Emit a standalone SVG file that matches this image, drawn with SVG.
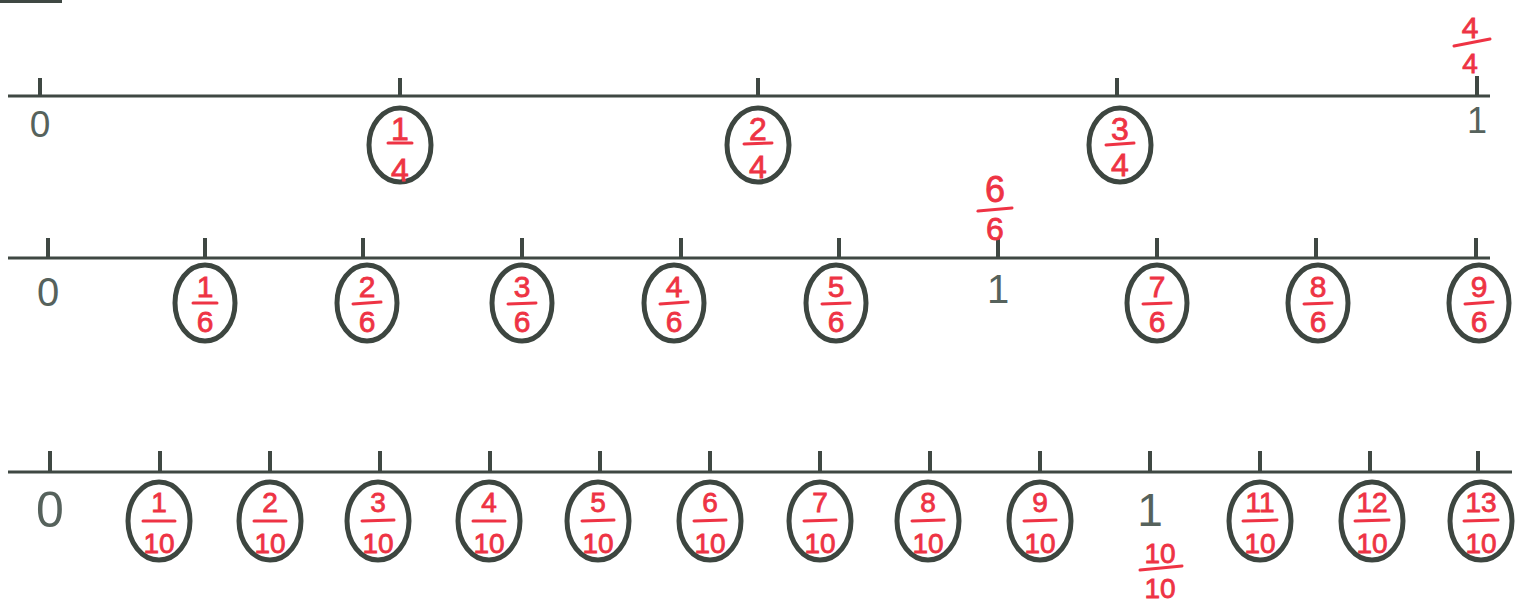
<svg xmlns="http://www.w3.org/2000/svg" width="1516" height="614" viewBox="0 0 1516 614">
<style>
.ax{stroke:#3f4843;stroke-width:3;fill:none}
.tk{stroke:#3f4843;stroke-width:4}
.ov{fill:none;stroke:#3d4640;stroke-width:5}
.num{fill:#56625c;font-family:"Liberation Sans",Arial,sans-serif;text-anchor:middle}
.fr{fill:#ee3344;stroke:#ee3344;stroke-width:0.8;font-family:"Liberation Sans",Arial,sans-serif;text-anchor:middle}
.f1{font-size:32px}.f2{font-size:30px}.f3{font-size:28px}
.bar{stroke:#ee3344;stroke-width:3;stroke-linecap:round}
</style>
<rect x="0" y="0" width="62" height="3" fill="#3f4843"/>
<g id="connectors">
<line class="ax" x1="8" y1="96" x2="1490" y2="96"/>
<line class="ax" x1="8" y1="258" x2="1490" y2="258"/>
<line class="ax" x1="8" y1="472" x2="1512" y2="472"/>
<g class="tk">
<line x1="40" y1="78" x2="40" y2="96"/><line x1="400" y1="78" x2="400" y2="96"/><line x1="758" y1="78" x2="758" y2="96"/><line x1="1117" y1="78" x2="1117" y2="96"/><line x1="1477" y1="76" x2="1477" y2="96"/>
<line x1="48" y1="238" x2="48" y2="258"/><line x1="205" y1="238" x2="205" y2="258"/><line x1="363" y1="238" x2="363" y2="258"/><line x1="522" y1="238" x2="522" y2="258"/><line x1="681" y1="238" x2="681" y2="258"/><line x1="839" y1="238" x2="839" y2="258"/><line x1="998" y1="238" x2="998" y2="258"/><line x1="1157" y1="238" x2="1157" y2="258"/><line x1="1316" y1="238" x2="1316" y2="258"/><line x1="1476" y1="238" x2="1476" y2="258"/>
<line x1="50" y1="451" x2="50" y2="472"/><line x1="160" y1="451" x2="160" y2="472"/><line x1="270" y1="451" x2="270" y2="472"/><line x1="380" y1="451" x2="380" y2="472"/><line x1="490" y1="451" x2="490" y2="472"/><line x1="600" y1="451" x2="600" y2="472"/><line x1="710" y1="451" x2="710" y2="472"/><line x1="820" y1="451" x2="820" y2="472"/><line x1="930" y1="451" x2="930" y2="472"/><line x1="1040" y1="451" x2="1040" y2="472"/><line x1="1150" y1="451" x2="1150" y2="472"/><line x1="1260" y1="451" x2="1260" y2="472"/><line x1="1370" y1="451" x2="1370" y2="472"/><line x1="1478" y1="451" x2="1478" y2="472"/>
</g>
</g>
<g id="r1-labels">
<text class="num" x="40" y="137" font-size="37">0</text>
<text class="num" x="1477" y="133" font-size="36">1</text>
</g>
<g id="r1-4of4" transform="translate(1470,45)"><text class="fr" font-size="30" y="-7">4</text><line class="bar" x1="-16" y1="1" x2="20" y2="-6"/><text class="fr" font-size="28" y="28">4</text></g>
<g id="r1-1" transform="translate(400,145)"><ellipse class="ov" rx="31" ry="37"/><text class="fr f1" y="-5">1</text><line class="bar" x1="-12" y1="-2" x2="12" y2="-2"/><text class="fr f1" y="36">4</text></g>
<g id="r1-2" transform="translate(758,145)"><ellipse class="ov" rx="31" ry="37"/><text class="fr f1" y="-5">2</text><line class="bar" x1="-14" y1="-1" x2="14" y2="-2"/><text class="fr f1" y="33">4</text></g>
<g id="r1-3" transform="translate(1120,145)"><ellipse class="ov" rx="31" ry="37"/><text class="fr f1" y="-5">3</text><line class="bar" x1="-14" y1="0" x2="14" y2="-2"/><text class="fr f1" y="31">4</text></g>

<g id="r2-labels">
<text class="num" x="48" y="306" font-size="40">0</text>
<text class="num" x="998" y="303" font-size="40">1</text>
</g>
<g id="r2-6of6" transform="translate(995,210)"><text class="fr" font-size="36" y="-8">6</text><line class="bar" x1="-17" y1="1" x2="17" y2="-2"/><text class="fr" font-size="32" y="30">6</text></g>
<g id="r2-1" transform="translate(205,303)"><ellipse class="ov" rx="30" ry="38"/><text class="fr f2" y="-6">1</text><line class="bar" x1="-12" y1="0" x2="12" y2="0"/><text class="fr f2" y="29">6</text></g>
<g id="r2-2" transform="translate(367,303)"><ellipse class="ov" rx="30" ry="38"/><text class="fr f2" y="-6">2</text><line class="bar" x1="-14" y1="1" x2="14" y2="-1"/><text class="fr f2" y="29">6</text></g>
<g id="r2-3" transform="translate(522,303)"><ellipse class="ov" rx="30" ry="38"/><text class="fr f2" y="-6">3</text><line class="bar" x1="-14" y1="1" x2="14" y2="0"/><text class="fr f2" y="29">6</text></g>
<g id="r2-4" transform="translate(674,303)"><ellipse class="ov" rx="30" ry="38"/><text class="fr f2" y="-6">4</text><line class="bar" x1="-14" y1="1" x2="14" y2="-1"/><text class="fr f2" y="29">6</text></g>
<g id="r2-5" transform="translate(836,303)"><ellipse class="ov" rx="30" ry="38"/><text class="fr f2" y="-6">5</text><line class="bar" x1="-14" y1="1" x2="14" y2="0"/><text class="fr f2" y="29">6</text></g>
<g id="r2-7" transform="translate(1157,303)"><ellipse class="ov" rx="30" ry="38"/><text class="fr f2" y="-6">7</text><line class="bar" x1="-14" y1="1" x2="14" y2="0"/><text class="fr f2" y="29">6</text></g>
<g id="r2-8" transform="translate(1318,303)"><ellipse class="ov" rx="30" ry="38"/><text class="fr f2" y="-6">8</text><line class="bar" x1="-14" y1="1" x2="14" y2="0"/><text class="fr f2" y="29">6</text></g>
<g id="r2-9" transform="translate(1479,303)"><ellipse class="ov" rx="30" ry="38"/><text class="fr f2" y="-6">9</text><line class="bar" x1="-14" y1="1" x2="14" y2="-1"/><text class="fr f2" y="29">6</text></g>

<g id="r3-labels">
<text class="num" x="50" y="527" font-size="50">0</text>
<text class="num" x="1150" y="526" font-size="46">1</text>
</g>
<g id="r3-10of10" transform="translate(1160,568)"><text class="fr f3" y="-5">10</text><line class="bar" x1="-20" y1="2" x2="22" y2="-2"/><text class="fr f3" y="30">10</text></g>
<g id="r3-1" transform="translate(159,521)"><ellipse class="ov" rx="31" ry="39"/><text class="fr f3" y="-9">1</text><line class="bar" x1="-16" y1="0" x2="16" y2="0"/><text class="fr f3" y="32">10</text></g>
<g id="r3-2" transform="translate(270,521)"><ellipse class="ov" rx="31" ry="39"/><text class="fr f3" y="-9">2</text><line class="bar" x1="-16" y1="0" x2="16" y2="0"/><text class="fr f3" y="32">10</text></g>
<g id="r3-3" transform="translate(378,521)"><ellipse class="ov" rx="31" ry="39"/><text class="fr f3" y="-9">3</text><line class="bar" x1="-16" y1="0" x2="16" y2="-1"/><text class="fr f3" y="32">10</text></g>
<g id="r3-4" transform="translate(489,521)"><ellipse class="ov" rx="31" ry="39"/><text class="fr f3" y="-9">4</text><line class="bar" x1="-16" y1="0" x2="16" y2="0"/><text class="fr f3" y="32">10</text></g>
<g id="r3-5" transform="translate(598,521)"><ellipse class="ov" rx="31" ry="39"/><text class="fr f3" y="-9">5</text><line class="bar" x1="-16" y1="0" x2="16" y2="-1"/><text class="fr f3" y="32">10</text></g>
<g id="r3-6" transform="translate(710,521)"><ellipse class="ov" rx="31" ry="39"/><text class="fr f3" y="-9">6</text><line class="bar" x1="-16" y1="0" x2="16" y2="-1"/><text class="fr f3" y="32">10</text></g>
<g id="r3-7" transform="translate(820,521)"><ellipse class="ov" rx="31" ry="39"/><text class="fr f3" y="-9">7</text><line class="bar" x1="-16" y1="0" x2="16" y2="-1"/><text class="fr f3" y="32">10</text></g>
<g id="r3-8" transform="translate(928,521)"><ellipse class="ov" rx="31" ry="39"/><text class="fr f3" y="-9">8</text><line class="bar" x1="-16" y1="0" x2="16" y2="-1"/><text class="fr f3" y="32">10</text></g>
<g id="r3-9" transform="translate(1040,521)"><ellipse class="ov" rx="31" ry="39"/><text class="fr f3" y="-9">9</text><line class="bar" x1="-16" y1="0" x2="16" y2="-1"/><text class="fr f3" y="32">10</text></g>
<g id="r3-11" transform="translate(1260,521)"><ellipse class="ov" rx="31" ry="39"/><text class="fr f3" y="-9">11</text><line class="bar" x1="-17" y1="0" x2="17" y2="-1"/><text class="fr f3" y="32">10</text></g>
<g id="r3-12" transform="translate(1372,521)"><ellipse class="ov" rx="31" ry="39"/><text class="fr f3" y="-9">12</text><line class="bar" x1="-17" y1="0" x2="17" y2="-1"/><text class="fr f3" y="32">10</text></g>
<g id="r3-13" transform="translate(1481,521)"><ellipse class="ov" rx="31" ry="39"/><text class="fr f3" y="-9">13</text><line class="bar" x1="-17" y1="0" x2="17" y2="-1"/><text class="fr f3" y="32">10</text></g>
</svg>
